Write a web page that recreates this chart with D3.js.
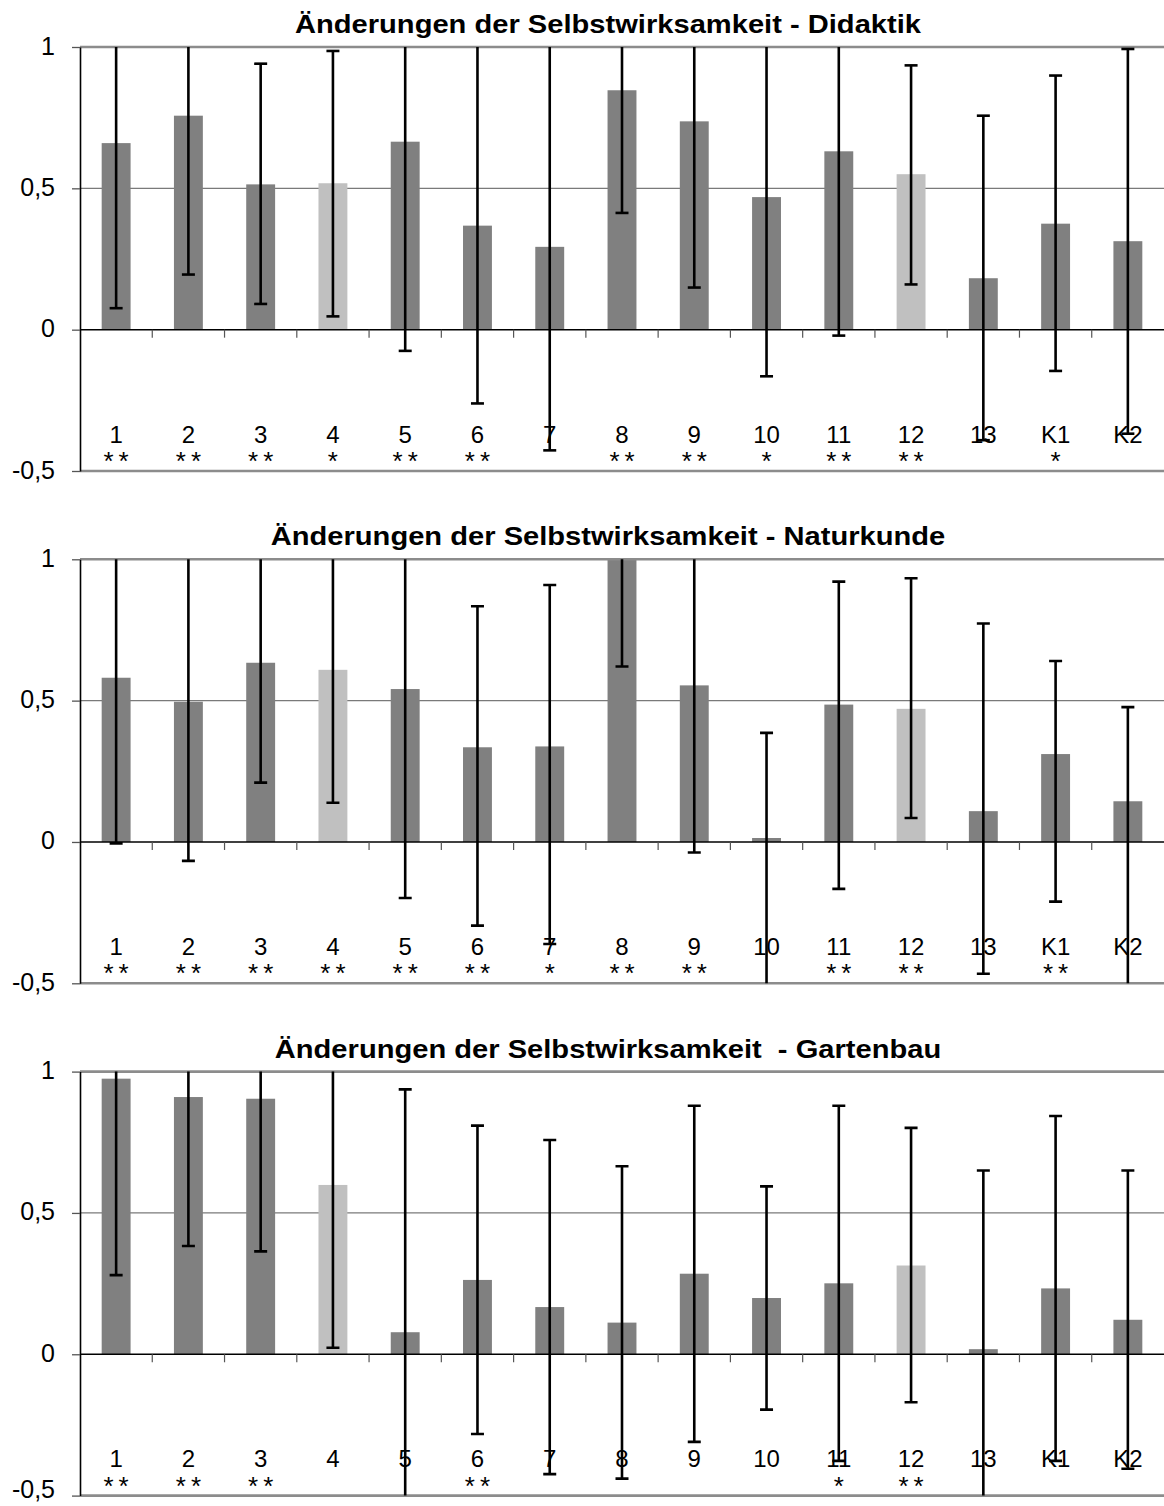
<!DOCTYPE html>
<html>
<head>
<meta charset="utf-8">
<script src="https://cdn.jsdelivr.net/npm/d3@7"></script>
<style>
  body { margin: 0; background: #fff; }
  svg { display: block; }
  text { font-family: "Liberation Sans", Arial, Helvetica, sans-serif; fill: #000; }
</style>
</head>
<body>
<svg id="chart" width="1164" height="1506"></svg>
<script>
// ---- data ----
const categories = ["1", "2", "3", "4", "5", "6", "7", "8", "9", "10", "11", "12", "13", "K1", "K2"];
const lightCategories = ["4", "12"];
const yTickValues = [1, 0.5, 0, -0.5];

const titles = [
  "Änderungen der Selbstwirksamkeit - Didaktik",
  "Änderungen der Selbstwirksamkeit - Naturkunde",
  "Änderungen der Selbstwirksamkeit  - Gartenbau"
];

// Didaktik
const didaktikMean = [0.660, 0.757, 0.514, 0.518, 0.665, 0.368, 0.293, 0.847, 0.737, 0.469, 0.631, 0.550, 0.182, 0.375, 0.313];
const didaktikLow  = [0.076, 0.195, 0.091, 0.047, -0.075, -0.261, -0.427, 0.413, 0.149, -0.165, -0.021, 0.160, -0.391, -0.146, -0.368];
const didaktikHigh = [1.244, 1.319, 0.941, 0.986, 1.405, 1.010, 1.013, 1.281, 1.325, 1.103, 1.283, 0.935, 0.757, 0.899, 0.993];
const didaktikSig  = ["**", "**", "**", "*", "**", "**", "", "**", "**", "*", "**", "**", "", "*", ""];

// Naturkunde
const naturkundeMean = [0.581, 0.496, 0.634, 0.609, 0.541, 0.335, 0.338, 1.020, 0.554, 0.014, 0.486, 0.471, 0.109, 0.311, 0.144];
const naturkundeLow  = [-0.005, -0.067, 0.210, 0.139, -0.198, -0.296, -0.361, 0.621, -0.037, -0.560, -0.166, 0.085, -0.466, -0.211, -0.600];
const naturkundeHigh = [1.167, 1.059, 1.058, 1.079, 1.280, 0.834, 0.909, 1.420, 1.145, 0.386, 0.921, 0.933, 0.773, 0.640, 0.477];
const naturkundeSig  = ["**", "**", "**", "**", "**", "**", "*", "**", "**", "", "**", "**", "", "**", ""];

// Gartenbau
const gartenbauMean = [0.975, 0.910, 0.904, 0.599, 0.078, 0.263, 0.167, 0.112, 0.285, 0.199, 0.251, 0.314, 0.018, 0.233, 0.122];
const gartenbauLow  = [0.280, 0.383, 0.364, 0.023, -0.781, -0.282, -0.424, -0.440, -0.310, -0.196, -0.377, -0.170, -0.614, -0.377, -0.405];
const gartenbauHigh = [1.670, 1.437, 1.444, 1.175, 0.937, 0.809, 0.758, 0.665, 0.879, 0.594, 0.879, 0.801, 0.650, 0.843, 0.650];
const gartenbauSig  = ["**", "**", "**", "", "", "**", "", "", "", "", "*", "**", "", "", ""];

const panels = [
  { title: titles[0], mean: didaktikMean, low: didaktikLow, high: didaktikHigh, sig: didaktikSig },
  { title: titles[1], mean: naturkundeMean, low: naturkundeLow, high: naturkundeHigh, sig: naturkundeSig },
  { title: titles[2], mean: gartenbauMean, low: gartenbauLow, high: gartenbauHigh, sig: gartenbauSig }
];

// ---- layout ----
const width = 1164, height = 1506;
const plotLeft = 80, plotRight = 1164;
const plotHeight = 424;
const firstTop = 47, panelStep = 512.3;
const titleCenter = 608;

const deLocale = d3.formatLocale({ decimal: ",", thousands: ".", grouping: [3], currency: ["", " €"], minus: "-" });
const fmt = deLocale.format("");

const svg = d3.select("#chart").attr("width", width).attr("height", height);

const x = d3.scaleBand()
  .domain(categories)
  .range([plotLeft, plotRight])
  .paddingInner(0.6)
  .paddingOuter(0.3);
const step = x.step();

panels.forEach((p, i) => {
  const top = firstTop + i * panelStep;
  const bottom = top + plotHeight;
  const y = d3.scaleLinear().domain([-0.5, 1]).range([bottom, top]);

  const g = svg.append("g");
  const clipId = "clip" + i;
  svg.append("clipPath").attr("id", clipId)
    .append("rect")
    .attr("x", plotLeft).attr("y", top)
    .attr("width", plotRight - plotLeft).attr("height", plotHeight);

  // gridline at 0.5
  g.append("line")
    .attr("x1", plotLeft).attr("x2", plotRight)
    .attr("y1", y(0.5)).attr("y2", y(0.5))
    .attr("stroke", "#7a7a7a").attr("stroke-width", 1.2);

  // bars
  const rows = categories.map((c, k) => ({ c, m: p.mean[k], lo: p.low[k], hi: p.high[k], s: p.sig[k] }));
  g.append("g").attr("clip-path", `url(#${clipId})`)
    .selectAll("rect").data(rows).join("rect")
    .attr("x", d => x(d.c))
    .attr("width", x.bandwidth())
    .attr("y", d => y(Math.max(0, d.m)))
    .attr("height", d => Math.abs(y(d.m) - y(0)))
    .attr("fill", d => lightCategories.includes(d.c) ? "#c0c0c0" : "#808080");

  // zero line with category separators
  g.append("line")
    .attr("x1", plotLeft).attr("x2", plotRight)
    .attr("y1", y(0)).attr("y2", y(0))
    .attr("stroke", "#000").attr("stroke-width", 1.5);
  g.append("g").selectAll("line").data(categories.slice(1)).join("line")
    .attr("x1", d => x(d) - step * 0.3).attr("x2", d => x(d) - step * 0.3)
    .attr("y1", y(0)).attr("y2", y(0) + 8)
    .attr("stroke", "#555").attr("stroke-width", 1.2);

  // top and bottom borders
  [1, -0.5].forEach(v => {
    g.append("line")
      .attr("x1", plotLeft).attr("x2", plotRight)
      .attr("y1", y(v)).attr("y2", y(v))
      .attr("stroke", "#8c8c8c").attr("stroke-width", 2.6);
  });

  // y axis
  const axis = g.append("g")
    .attr("transform", `translate(${plotLeft},0)`)
    .call(d3.axisLeft(y).tickValues(yTickValues).tickFormat(fmt).tickSize(8).tickSizeOuter(0).tickPadding(17));
  axis.select(".domain").attr("stroke", "#000").attr("stroke-width", 1.6);
  axis.selectAll(".tick line").attr("stroke", "#555").attr("stroke-width", 1.3);
  axis.selectAll(".tick text")
    .attr("font-size", 25)
    // keep the lowest label of the last panel inside the canvas
    .attr("dy", d => (y(d) + 14 > height) ? "0.08em" : "0.28em")
    .attr("font-family", "\"Liberation Sans\", Arial, sans-serif")
    .attr("fill", "#000");

  // category labels and significance marks
  g.append("g").selectAll("text").data(rows).join("text")
    .attr("x", d => x(d.c) + x.bandwidth() / 2)
    .attr("y", y(-0.4))
    .attr("text-anchor", "middle")
    .attr("font-size", 24)
    .text(d => d.c);
  g.append("g").selectAll("text").data(rows.filter(d => d.s)).join("text")
    .attr("x", d => x(d.c) + x.bandwidth() / 2 + 2.5)
    .attr("y", y(-0.5) - 1)
    .attr("text-anchor", "middle")
    .attr("font-size", 26)
    .attr("letter-spacing", 5)
    .text(d => d.s);

  // error bars
  const eb = g.append("g").attr("clip-path", `url(#${clipId})`)
    .attr("stroke", "#000").attr("stroke-width", 2.6);
  const cx = d => x(d.c) + x.bandwidth() / 2;
  eb.selectAll("line.v").data(rows).join("line").attr("class", "v")
    .attr("x1", cx).attr("x2", cx)
    .attr("y1", d => y(d.hi)).attr("y2", d => y(d.lo));
  eb.selectAll("line.h").data(rows).join("line").attr("class", "h")
    .attr("x1", d => cx(d) - 6.5).attr("x2", d => cx(d) + 6.5)
    .attr("y1", d => y(d.hi)).attr("y2", d => y(d.hi));
  eb.selectAll("line.l").data(rows).join("line").attr("class", "l")
    .attr("x1", d => cx(d) - 6.5).attr("x2", d => cx(d) + 6.5)
    .attr("y1", d => y(d.lo)).attr("y2", d => y(d.lo));

  // title
  g.append("text")
    .attr("transform", `translate(${titleCenter},${top - 14}) scale(1.12,1)`)
    .attr("text-anchor", "middle")
    .attr("font-size", 26)
    .attr("font-weight", "bold")
    .style("white-space", "pre")
    .text(p.title);
});
</script>
</body>
</html>
